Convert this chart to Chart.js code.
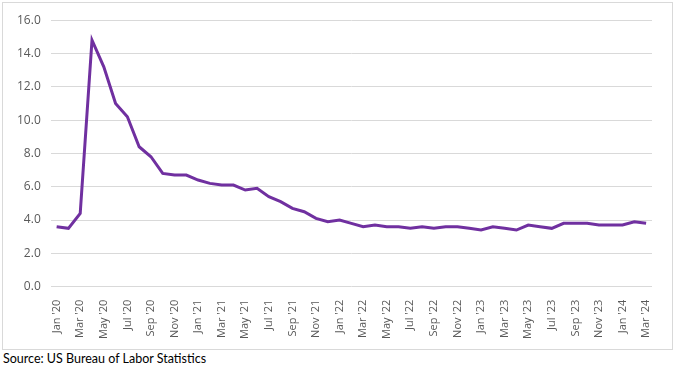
<!DOCTYPE html>
<html>
<head>
<meta charset="utf-8">
<script src="https://cdn.jsdelivr.net/npm/chart.js@4"></script>
<style>
  html, body { margin: 0; padding: 0; background: #fff; }
  #frame {
    position: absolute; left: 2px; top: 2px;
    width: 669px; height: 346px;
    border: 1px solid #d9d9d9;
  }
  #frame canvas { display: block; }
  #source {
    position: absolute; left: 3px; top: 351px;
    font-family: Lato, "Liberation Sans", sans-serif;
    font-size: 12.5px; color: #000;
  }
</style>
</head>
<body>
<div id="frame"><canvas id="grafico"></canvas></div>
<div id="source">Source: US Bureau of Labor Statistics</div>
<script>
// Meses de jan/2020 a mar/2024
const meses = [
  "Jan '20","Feb '20","Mar '20","Apr '20","May '20","Jun '20","Jul '20","Aug '20","Sep '20","Oct '20","Nov '20","Dec '20",
  "Jan '21","Feb '21","Mar '21","Apr '21","May '21","Jun '21","Jul '21","Aug '21","Sep '21","Oct '21","Nov '21","Dec '21",
  "Jan '22","Feb '22","Mar '22","Apr '22","May '22","Jun '22","Jul '22","Aug '22","Sep '22","Oct '22","Nov '22","Dec '22",
  "Jan '23","Feb '23","Mar '23","Apr '23","May '23","Jun '23","Jul '23","Aug '23","Sep '23","Oct '23","Nov '23","Dec '23",
  "Jan '24","Feb '24","Mar '24"
];

// Taxa de desemprego (%)
const taxaDesemprego = [
  3.6, 3.5, 4.4, 14.8, 13.2, 11.0, 10.2, 8.4, 7.8, 6.8, 6.7, 6.7,
  6.4, 6.2, 6.1, 6.1, 5.8, 5.9, 5.4, 5.1, 4.7, 4.5, 4.1, 3.9,
  4.0, 3.8, 3.6, 3.7, 3.6, 3.6, 3.5, 3.6, 3.5, 3.6, 3.6, 3.5,
  3.4, 3.6, 3.5, 3.4, 3.7, 3.6, 3.5, 3.8, 3.8, 3.8, 3.7, 3.7,
  3.7, 3.9, 3.8
];

// Escala do eixo y
const yMin = 0;
const yMax = 16;
const yPasso = 2;

const frame = document.getElementById('frame');
const canvas = document.getElementById('grafico');
canvas.width = frame.clientWidth;
canvas.height = frame.clientHeight;

new Chart(canvas.getContext('2d'), {
  type: 'line',
  data: {
    labels: meses,
    datasets: [{
      data: taxaDesemprego,
      borderColor: '#7030a0',
      borderWidth: 3,
      pointRadius: 0,
      tension: 0,
      fill: false
    }]
  },
  options: {
    responsive: false,
    animation: false,
    layout: { padding: { left: 4, right: 20, top: 6, bottom: 5 } },
    plugins: { legend: { display: false }, tooltip: { enabled: false } },
    scales: {
      x: {
        offset: true,
        grid: { display: false },
        border: { display: false },
        ticks: {
          autoSkip: false,
          maxRotation: 90,
          minRotation: 90,
          padding: 5,
          color: '#595959',
          font: { family: 'Open Sans', size: 11 },
          callback: function (valor, indice) {
            return indice % 2 === 0 ? meses[indice] : '';
          }
        }
      },
      y: {
        min: yMin,
        max: yMax,
        grid: { color: '#d9d9d9', lineWidth: 1, drawTicks: false },
        border: { display: false },
        ticks: {
          stepSize: yPasso,
          padding: 10,
          color: '#595959',
          font: { family: 'Open Sans', size: 12 },
          callback: v => v.toFixed(1)
        }
      }
    }
  }
});
</script>
</body>
</html>
